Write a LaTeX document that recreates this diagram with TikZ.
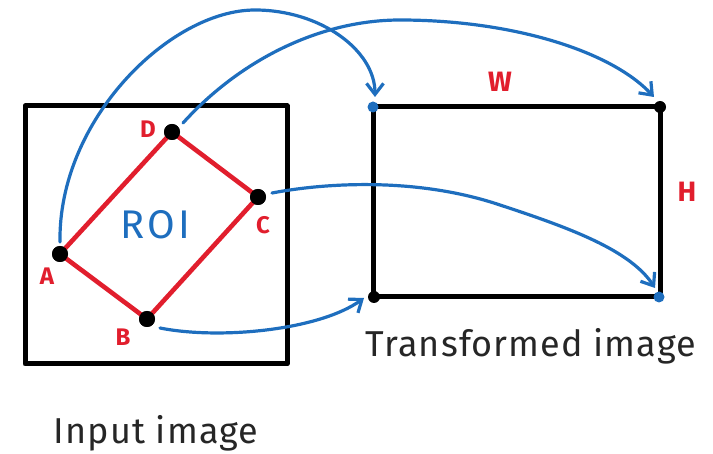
\documentclass[tikz,border=0pt]{standalone}
\usepackage{fontspec}
\setmainfont{Fira Sans}
\usetikzlibrary{arrows.meta}
\definecolor{myblue}{RGB}{30,110,190}
\definecolor{myred}{RGB}{225,30,45}
\tikzset{
  frame/.style={draw=black, line width=5pt, line join=round, line cap=round},
  roiedge/.style={draw=myred, line width=4.6pt, line cap=round},
  bigdot/.style={circle, fill=black, inner sep=0pt, minimum size=16pt},
  bluedot/.style={circle, fill=myblue, inner sep=0pt, minimum size=11pt},
  corner/.style={circle, fill=black, inner sep=0pt, minimum size=12pt},
  lbl/.style={text=myred, font=\fontsize{24}{24}\selectfont\bfseries},
  flow/.style={draw=myblue, line width=3.2pt, line cap=round, -{Straight Barb[length=11pt,width=17pt,line width=3.2pt]}},
  caption/.style={font=\fontsize{36}{36}\selectfont\addfontfeature{LetterSpace=3}, text=black!85}
}
\begin{document}
\begin{tikzpicture}[x=1pt,y=-1pt]
\useasboundingbox (0,0) rectangle (713,454);
% input frame
\draw[frame] (25,106) rectangle (287,364);
% transformed frame
\draw[frame] (373,107) rectangle (660,297);
% ROI
\node[bigdot] (A) at (60,254) {};
\node[bigdot] (B) at (147,319) {};
\node[bigdot] (C) at (258,197) {};
\node[bigdot] (D) at (172,132) {};
\draw[roiedge] (A.center) -- (B.center) -- (C.center) -- (D.center) -- cycle;
\node[bigdot] at (A) {};
\node[bigdot] at (B) {};
\node[bigdot] at (C) {};
\node[bigdot] at (D) {};
\node[lbl] (la) at (47,276) {A};
\node[lbl] (lb) at (123,337) {B};
\node[lbl] (lc) at (263,225) {C};
\node[lbl] (ld) at (148,129) {D};
\node[text=myblue, font=\fontsize{40}{40}\selectfont\addfontfeature{LetterSpace=8}] (roi) at (155,225) {ROI};
% transformed corners
\node[bluedot] (TL) at (373,107) {};
\node[corner] (TR) at (660,107) {};
\node[corner] (BL) at (374,297) {};
\node[bluedot] (BR) at (659,297) {};
\node[lbl, font=\fontsize{28}{28}\selectfont\bfseries] (W) at (500,82) {W};
\node[lbl, font=\fontsize{28}{28}\selectfont\bfseries] (H) at (687,192) {H};
% flows
\coordinate (Aout) at (60,242);
\coordinate (TLin) at (375,97);
\coordinate (Dout) at (183,123);
\coordinate (TRin) at (654,97);
\coordinate (Cout) at (272,193);
\coordinate (BRin) at (655,288);
\coordinate (Bout) at (160,328);
\coordinate (BLin) at (364,298);
\draw[flow] (Aout) .. controls (58,120) and (170,10) .. (255,10) .. controls (320,10) and (375,50) .. (TLin);
\draw[flow] (Dout) .. controls (240,60) and (320,20) .. (400,20) .. controls (510,20) and (610,50) .. (TRin);
\draw[flow] (Cout) .. controls (330,182) and (420,178) .. (500,205) .. controls (570,228) and (630,250) .. (BRin);
\draw[flow] (Bout) .. controls (220,340) and (320,330) .. (BLin);
% captions
\node[caption] (tcap) at (531,346) {Transformed image};
\node[caption] (icap) at (156,433) {Input image};
\end{tikzpicture}
\end{document}
